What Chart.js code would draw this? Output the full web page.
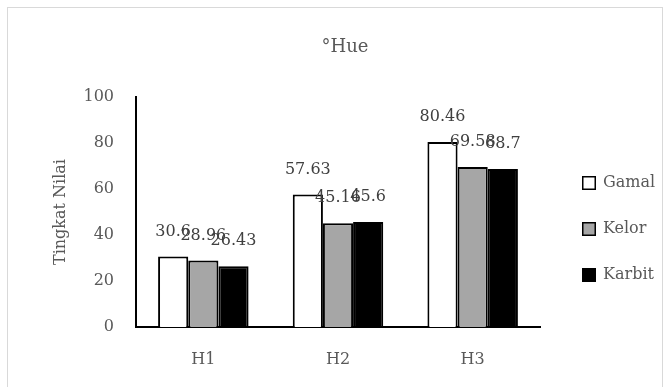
<!DOCTYPE html>
<html>
<head>
<meta charset="utf-8">
<script src="https://cdn.jsdelivr.net/npm/chart.js@4/dist/chart.umd.min.js"></script>
<style>
  html, body { margin: 0; padding: 0; background: #ffffff; }
  #wrap { width: 670px; height: 387px; }
</style>
</head>
<body>
<div id="wrap"><canvas id="c" width="670" height="387"></canvas></div>
<script>
// Categories and series values
const categories = ['H1', 'H2', 'H3'];
const gamal = [30.6, 57.63, 80.46];
const kelor = [28.96, 45.16, 69.58];
const karbit = [26.43, 45.6, 68.7];
const seriesNames = ['Gamal', 'Kelor', 'Karbit'];
const yTicks = [0, 20, 40, 60, 80, 100];
const chartTitle = '°Hue';

const FONT = '"DejaVu Serif", "Liberation Serif", serif';
const TEXT = '#595959';

// Light grey frame around the whole chart, plus the centred title
const framePlugin = {
  id: 'frame',
  beforeDraw(chart) {
    const ctx = chart.ctx;
    ctx.save();
    ctx.fillStyle = '#ffffff';
    ctx.fillRect(0, 0, chart.width, chart.height);
    ctx.strokeStyle = '#d9d9d9';
    ctx.lineWidth = 1;
    ctx.strokeRect(7.5, 7.5, chart.width - 15, chart.height + 20);
    ctx.font = '18px ' + FONT;
    ctx.fillStyle = TEXT;
    ctx.textAlign = 'center';
    ctx.textBaseline = 'middle';
    ctx.fillText(chartTitle, 345, 47);
    ctx.restore();
  }
};

// Value labels above each bar
const valueLabels = {
  id: 'valueLabels',
  afterDatasetsDraw(chart) {
    const ctx = chart.ctx;
    ctx.save();
    ctx.font = '16px ' + FONT;
    ctx.fillStyle = '#404040';
    ctx.textAlign = 'center';
    ctx.textBaseline = 'middle';
    chart.data.datasets.forEach((ds, i) => {
      const meta = chart.getDatasetMeta(i);
      meta.data.forEach((bar, j) => {
        ctx.fillText(String(ds.data[j]), bar.x, bar.y - 25);
      });
    });
    ctx.restore();
  }
};

// Vertical legend to the right of the plot
const sideLegend = {
  id: 'sideLegend',
  afterDraw(chart) {
    const ctx = chart.ctx;
    const area = chart.chartArea;
    const x = area.right + 42;
    const y0 = (area.top + area.bottom) / 2 - 29;
    const step = 46;
    ctx.save();
    ctx.font = '16px ' + FONT;
    ctx.textBaseline = 'middle';
    ctx.textAlign = 'left';
    chart.data.datasets.forEach((ds, i) => {
      const cy = y0 + i * step;
      ctx.fillStyle = ds.backgroundColor;
      ctx.fillRect(x, cy - 7, 14, 14);
      ctx.strokeStyle = '#000000';
      ctx.lineWidth = 1.5;
      ctx.strokeRect(x + 0.75, cy - 6.25, 12.5, 12.5);
      ctx.fillStyle = TEXT;
      ctx.fillText(ds.label, x + 21, cy);
    });
    ctx.restore();
  }
};

const barStyle = { borderColor: '#000000', borderWidth: 2, borderSkipped: 'bottom' };

new Chart(document.getElementById('c'), {
  type: 'bar',
  data: {
    labels: categories,
    datasets: [
      Object.assign({ label: seriesNames[0], data: gamal, backgroundColor: '#ffffff' }, barStyle),
      Object.assign({ label: seriesNames[1], data: kelor, backgroundColor: '#a6a6a6' }, barStyle),
      Object.assign({ label: seriesNames[2], data: karbit, backgroundColor: '#000000' }, barStyle)
    ]
  },
  options: {
    responsive: false,
    animation: false,
    devicePixelRatio: 1,
    categoryPercentage: 0.672,
    barPercentage: 1.0,
    layout: { padding: { left: 44, right: 130, top: 97, bottom: 18 } },
    plugins: {
      legend: { display: false },
      tooltip: { enabled: false },
      title: { display: false }
    },
    scales: {
      x: {
        afterFit(scale) { scale.height = 42; },
        grid: { display: false, drawTicks: false },
        border: { display: true, color: '#000000', width: 2 },
        ticks: { color: TEXT, font: { family: FONT, size: 16 }, padding: 23 }
      },
      y: {
        min: 0,
        max: 100,
        afterBuildTicks(scale) { scale.ticks = yTicks.map(v => ({ value: v })); },
        afterFit(scale) { scale.width = 92; },
        grid: { display: false, drawTicks: false },
        border: { display: true, color: '#000000', width: 2 },
        ticks: { color: TEXT, font: { family: FONT, size: 16 }, padding: 22 },
        title: {
          display: true,
          text: 'Tingkat Nilai',
          color: TEXT,
          font: { family: FONT, size: 16, weight: 'normal' },
          padding: { top: 7, bottom: 0 }
        }
      }
    }
  },
  plugins: [framePlugin, valueLabels, sideLegend]
});
</script>
</body>
</html>
